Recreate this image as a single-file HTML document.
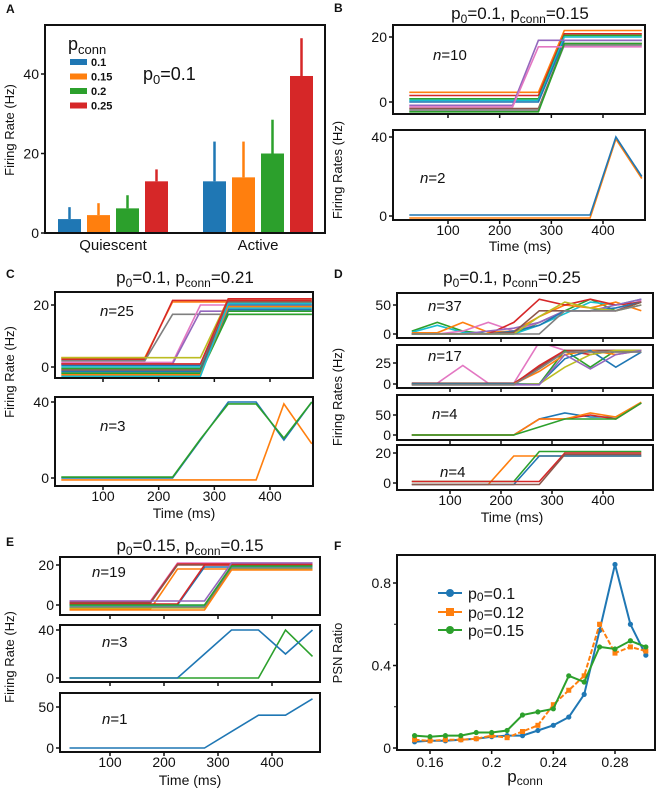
<!DOCTYPE html>
<html><head><meta charset="utf-8">
<style>
html,body{margin:0;padding:0;background:#fff;}
svg{display:block;font-family:"Liberation Sans",sans-serif;}
</style></head>
<body>
<svg id="fig" width="660" height="789" viewBox="0 0 660 789" xmlns="http://www.w3.org/2000/svg">
<defs></defs>
</svg>
<script>
// ---------- Panel A data ----------
const aGroups = ['Quiescent','Active'];
const aLegend = ['0.1','0.15','0.2','0.25'];
const aMeans = [[3.5,4.5,6.2,13],[13,14,20,39.5]];
const aErrTop = [[6.5,7.5,9.5,16],[23,23,28.5,49]];
const aYTicks = [0,20,40];
// ---------- Traces ----------
const T = [25,75,125,175,225,275,325,375,425,475];
const bTopColors = ['#ff7f0e','#d62728','#2ca02c','#17becf','#1f77b4','#9467bd','#e377c2','#8c564b','#7f7f7f','#2ca02c'];
const bTopVals = [
 [3,3,3,3,3,3,22,22,22,22],[2,2,2,2,2,2,21,21,21,21],[1,1,1,1,1,1,20.5,20.5,20.5,20.5],
 [0.5,0.5,0.5,0.5,0.5,0.5,20,20,20,20],[0,0,0,0,0,0,19,19,19,19],[-1,-1,-1,-1,-1,19,19,19,19,19],
 [-1.5,-1.5,-1.5,-1.5,-1.5,17,17,17,17,17],[-2,-2,-2,-2,-2,-2,18,18,18,18],[-2.5,-2.5,-2.5,-2.5,-2.5,-2.5,17.5,17.5,17.5,17.5],[-3,-3,-3,-3,-3,-3,18,18,18,18]];
const bBotColors = ['#ff7f0e','#1f77b4'];
const bBotVals = [[-1,-1,-1,-1,-1,-1,-1,-1,39,19],[0.5,0.5,0.5,0.5,0.5,0.5,0.5,0.5,40,20]];
const cTopColors = ['#ff7f0e','#d62728','#7f7f7f','#e377c2','#9467bd','#bcbd22','#1f77b4','#17becf','#2ca02c','#8c564b','#1f77b4','#2ca02c','#ff7f0e','#17becf','#d62728'];
const cTopVals = [
 [3,3,3,3,21,21,21,21,21,21],[2.5,2.5,2.5,2.5,21.5,21.5,21.5,21.5,21.5,21.5],[2,2,2,2,17,17,17,17,17,17],
 [1.5,1.5,1.5,1.5,1.5,20,20,20,20,20],[1,1,1,1,1,18,18,18,18,18],[3,3,3,3,3,3,22,22,22,22],
 [0.5,0.5,0.5,0.5,0.5,0.5,20,20,20,20],[0,0,0,0,0,0,19,19,19,19],[-0.5,-0.5,-0.5,-0.5,-0.5,-0.5,18,18,18,18],
 [-1,-1,-1,-1,-1,-1,21,21,21,21],[-1.5,-1.5,-1.5,-1.5,-1.5,-1.5,18.5,18.5,18.5,18.5],[-2,-2,-2,-2,-2,-2,17,17,17,17],
 [-2.5,-2.5,-2.5,-2.5,-2.5,-2.5,19.5,19.5,19.5,19.5],[-3,-3,-3,-3,-3,-3,20.5,20.5,20.5,20.5],[1,1,1,1,1,1,22,22,22,22]];
const cBotColors = ['#ff7f0e','#1f77b4','#2ca02c'];
const cBotVals = [[-1,-1,-1,-1,-1,-1,-1,-1,39,18],[0,0,0,0,0,20,40,40,20,40],[0.5,0.5,0.5,0.5,0.5,20.5,39,39,21,40]];
const d1Colors = ['#2ca02c','#17becf','#ff7f0e','#e377c2','#d62728','#9467bd','#1f77b4','#8c564b','#bcbd22','#7f7f7f'];
const d1Vals = [
 [5,20,5,0,0,20,40,60,40,55],[3,15,3,0,0,15,35,55,50,60],[2,2,20,3,5,30,50,45,55,40],[0,0,5,20,5,20,40,40,40,58],
 [0,0,0,0,20,60,50,60,50,55],[0,0,0,5,10,20,40,40,50,60],[0,0,0,0,5,15,40,40,45,55],[0,0,0,0,3,40,40,40,40,55],
 [0,0,0,0,0,30,55,45,40,50],[0,0,0,0,0,0,40,40,40,50]];
const d2Colors = ['#e377c2','#8c564b','#d62728','#2ca02c','#ff7f0e','#1f77b4','#bcbd22','#9467bd','#7f7f7f'];
const d2Vals = [
 [1,1,22,1,1,50,40,40,40,40],[1,1,1,1,1,20,40,40,40,40],[0,0,0,0,0,22,40,35,40,40],[0,0,0,0,0,0,40,20,40,40],
 [0,0,0,0,0,15,35,40,35,40],[0,0,0,0,0,0,30,40,20,38],[-1,-1,-1,-1,-1,0,20,35,40,40],[-1,-1,-1,-1,-1,-1,35,18,35,40],[-1,-1,-1,-1,-1,18,38,38,38,38]];
const d3Colors = ['#1f77b4','#d62728','#ff7f0e','#2ca02c'];
const d3Vals = [[0,0,0,0,0,40,55,45,45,80],[0,0,0,0,0,40,40,50,40,80],[0,0,0,0,0,40,40,55,45,82],[0,0,0,0,0,20,40,40,40,80]];
const d4Colors = ['#ff7f0e','#2ca02c','#1f77b4','#d62728','#8c564b'];
const d4Vals = [[-1,-1,-1,-1,18,18,18,18,18,18],[1,1,1,1,1,21,21,21,21,21],[-1,-1,-1,-1,-1,18,18,18,18,18],[1,1,1,1,1,1,20,20,20,20],[-1,-1,-1,-1,-1,-1,19,19,19,19]];
const e1Colors = ['#e377c2','#d62728','#8c564b','#ff7f0e','#1f77b4','#d62728','#9467bd','#17becf','#bcbd22','#7f7f7f','#2ca02c','#ff7f0e'];
const e1Vals = [
 [2,2,2,2,21,21,21,21,21,21],[1.5,1.5,1.5,1.5,20.5,20.5,20.5,20.5,20.5,20.5],[1,1,1,1,20,20,20,20,20,20],[-2,-2,-2,-2,18,18,18,18,18,18],
 [0,0,0,0,0,19,19,19,19,19],[0.5,0.5,0.5,0.5,0.5,20,20,20,20,20],[2,2,2,2,2,2,21,21,21,21],[-0.5,-0.5,-0.5,-0.5,-0.5,-0.5,19,19,19,19],
 [-1.5,-1.5,-1.5,-1.5,-1.5,-1.5,18,18,18,18],[-1,-1,-1,-1,-1,-1,18.5,18.5,18.5,18.5],[0,0,0,0,0,0,19.5,19.5,19.5,19.5],[-2.5,-2.5,-2.5,-2.5,-2.5,-2.5,17.5,17.5,17.5,17.5]];
const e2Colors = ['#2ca02c','#1f77b4'];
const e2Vals = [[0,0,0,0,0,0,0,0,40,18],[0,0,0,0,0,20,40,40,20,40]];
const e3Colors = ['#1f77b4'];
const e3Vals = [[0,0,0,0,0,0,20,40,40,60]];
// ---------- Panel F data ----------
const fX = [0.15,0.16,0.17,0.18,0.19,0.20,0.21,0.22,0.23,0.24,0.25,0.26,0.27,0.28,0.29,0.30];
const fBlue = [0.03,0.035,0.035,0.04,0.045,0.055,0.06,0.06,0.085,0.11,0.15,0.26,0.57,0.89,0.60,0.45];
const fOrange = [0.04,0.035,0.04,0.04,0.045,0.06,0.05,0.08,0.11,0.21,0.28,0.35,0.60,0.46,0.49,0.47];
const fGreen = [0.06,0.055,0.06,0.06,0.075,0.075,0.085,0.16,0.175,0.19,0.35,0.32,0.49,0.48,0.52,0.49];
const fXTicks = [0.16,0.2,0.24,0.28];
const fYTicks = [0,0.4,0.8];

const NS='http://www.w3.org/2000/svg';
const svg=document.getElementById('fig');
function el(tag,attrs,parent){const e=document.createElementNS(NS,tag);for(const k in attrs)e.setAttribute(k,attrs[k]);(parent||svg).appendChild(e);return e;}
function txt(x,y,s,size,anchor,parent,extra){const t=el('text',Object.assign({x:x,y:y,'font-size':size,'text-anchor':anchor||'middle',fill:'#111'},extra||{}),parent);t.textContent=s;return t;}
function lin(v1,p1,v2,p2){return v=>p1+(v-v1)*(p2-p1)/(v2-v1);}
let clipId=0;
function sub(name,L,R,Top,Bot,xs,ys,yticks,colors,vals,showXLabels,nlabel,nx,ny){
  const g=el('g',{});
  
  
  const X=lin(xs[0],xs[1],xs[2],xs[3]), Y=lin(ys[0],ys[1],ys[2],ys[3]);
  const id='c'+(clipId++);
  const cp=el('clipPath',{id:id},g); el('rect',{x:L,y:Top,width:R-L,height:Bot-Top},cp);
  const lg=el('g',{'clip-path':'url(#'+id+')'},g);
  vals.forEach((v,i)=>{
    const p=el('polyline',{points:v.map((y,j)=>X(T[j]).toFixed(1)+','+Y(y).toFixed(1)).join(' '),fill:'none',stroke:colors[i],'stroke-width':1.6},lg);
    
    
  });
  el('rect',{x:L,y:Top,width:R-L,height:Bot-Top,fill:'none',stroke:'#111','stroke-width':2},g);
  yticks.forEach(t=>{const y=Y(t);el('line',{x1:L-4,x2:L,y1:y,y2:y,stroke:'#111','stroke-width':1.5},g);
    const tl=txt(L-6,y+5,String(t),14,'end',g); });
  [100,200,300,400].forEach(t=>{const x=X(t);el('line',{x1:x,x2:x,y1:Bot,y2:Bot+4,stroke:'#111','stroke-width':1.5},g);
    if(showXLabels){const tl=txt(x,Bot+15,String(t),14,'middle',g);}});
  const n=el('text',{x:nx,y:ny,'font-size':15,'text-anchor':'start',fill:'#111'},g);
  n.innerHTML='<tspan font-style="italic">n</tspan>='+nlabel;
  
}
function title(x,y,p0,pc,name){
  const t=el('text',{x:x,y:y,'font-size':17,'text-anchor':'middle',fill:'#111'});
  t.innerHTML='p<tspan font-size="12" dy="4">0</tspan><tspan dy="-4">='+p0+', p</tspan><tspan font-size="12" dy="4">conn</tspan><tspan dy="-4">='+pc+'</tspan>';
  
}
function letter(x,y,s){const t=txt(x,y,s,12,'start',null,{'font-weight':'bold'});}
function ylab(x,y,s){const t=txt(0,0,s,13,'middle',null,{transform:'translate('+x+','+y+') rotate(-90)'});}
function xlab(x,y,s){const t=txt(x,y,s,14,'middle');}

// ---------- Panel A ----------
(function(){
  const L=45,R=325,Top=25,Bot=233;
  const Y=lin(0,233,40,74);
  const g=el('g',{});  
  const cols=['#1f77b4','#ff7f0e','#2ca02c','#d62728'];
  const groupStart=[58,203], bw=23, step=29;
  aGroups.forEach((gn,gi)=>{
    aMeans[gi].forEach((m,i)=>{
      const x=groupStart[gi]+i*step;
      const e=el('line',{x1:x+bw/2,x2:x+bw/2,y1:Y(aErrTop[gi][i]),y2:Y(m),stroke:cols[i],'stroke-width':2.5},g);
      
      const b=el('rect',{x:x,y:Y(m),width:bw,height:Y(0)-Y(m),fill:cols[i]},g);
      
    });
    const tl=txt(groupStart[gi]+2*step-3,250,gn,15,'middle',g);
  });
  el('rect',{x:L,y:Top,width:R-L,height:Bot-Top,fill:'none',stroke:'#111','stroke-width':2},g);
  aYTicks.forEach(t=>{el('line',{x1:L-4,x2:L,y1:Y(t),y2:Y(t),stroke:'#111','stroke-width':1.5},g);
    const tl=txt(L-6,Y(t)+5,String(t),14,'end',g);});
  const lt=el('text',{x:68,y:50,'font-size':18,fill:'#111'},g);lt.innerHTML='p<tspan font-size="13" dy="4">conn</tspan>';
  
  aLegend.forEach((s,i)=>{
    const y=62+i*14.5;
    const sw=el('rect',{x:70,y:y-3,width:17,height:6,fill:cols[i]},g);
    const t=txt(91,y+4,s,11,'start',g,{'font-weight':'bold'});
  });
  const p=el('text',{x:143,y:80,'font-size':18,fill:'#111'},g);p.innerHTML='p<tspan font-size="13" dy="4">0</tspan><tspan dy="-4">=0.1</tspan>';
  
})();
letter(6,13,'A'); ylab(14,130,'Firing Rate (Hz)');

// ---------- Panel B ----------
letter(334,12,'B'); title(520,19,'0.1','0.15','panel-b-title');
sub('panel-b-top',393,645,25,114,[100,448,400,603],[0,102,20,37],[0,20],bTopColors,bTopVals,false,'10',433,60);
sub('panel-b-bottom',393,645,130,220,[100,448,400,603],[0,216,40,137],[0,40],bBotColors,bBotVals,true,'2',420,183);
ylab(342,170,'Firing Rates (Hz)'); xlab(520,251,'Time (ms)');

// ---------- Panel C ----------
letter(6,278,'C'); title(185,283,'0.1','0.21','panel-c-title');
sub('panel-c-top',55,313,292,378,[100,103,400,270],[0,367,20,305],[0,20],cTopColors,cTopVals,false,'25',100,316);
sub('panel-c-bottom',55,313,397,486,[100,103,400,270],[0,478,40,402],[0,40],cBotColors,cBotVals,true,'3',100,431);
ylab(14,372,'Firing Rate (Hz)'); xlab(184,518,'Time (ms)');

// ---------- Panel D ----------
letter(334,278,'D'); title(512,283,'0.1','0.25','panel-d-title');
sub('panel-d-1',397,653,293,338,[100,450,400,603],[0,334,50,305],[0,50],d1Colors,d1Vals,false,'37',428,311);
sub('panel-d-2',397,653,345,388,[100,450,400,603],[0,384,25,363],[0,25],d2Colors,d2Vals,false,'17',428,361);
sub('panel-d-3',397,653,395,440,[100,450,400,603],[0,435,50,415],[0,50],d3Colors,d3Vals,false,'4',432,419);
sub('panel-d-4',397,653,445,490,[100,450,400,603],[0,483,20,453],[0,20],d4Colors,d4Vals,true,'4',440,477);
ylab(342,397,'Firing Rates (Hz)'); xlab(512,522,'Time (ms)');

// ---------- Panel E ----------
letter(6,546,'E'); title(190,551,'0.15','0.15','panel-e-title');
sub('panel-e-1',60,320,557,615,[100,110,400,272],[0,605,20,565],[0,20],e1Colors,e1Vals,false,'19',92,577);
sub('panel-e-2',60,320,625,682,[100,110,400,272],[0,678,40,630],[0,40],e2Colors,e2Vals,false,'3',102,647);
sub('panel-e-3',60,320,693,752,[100,110,400,272],[0,748,50,707],[0,50],e3Colors,e3Vals,true,'1',102,724);
ylab(14,657,'Firing Rate (Hz)'); xlab(190,785,'Time (ms)');

// ---------- Panel F ----------
letter(334,550,'F');
(function(){
  const L=397,R=655,Top=555,Bot=750;
  const X=lin(0.16,430,0.28,615), Y=lin(0,748,0.8,583);
  const g=el('g',{});  
  const series=[['#1f77b4',fBlue,'circle','0.1'],['#ff7f0e',fOrange,'square','0.12'],['#2ca02c',fGreen,'circle','0.15']];
  series.forEach(s=>{
    const p=el('polyline',{points:s[1].map((v,i)=>X(fX[i]).toFixed(1)+','+Y(v).toFixed(1)).join(' '),fill:'none',stroke:s[0],'stroke-width':2,'stroke-dasharray':s[2]==='square'?'5,2':'none'},g);
    
    s[1].forEach((v,i)=>{
      const m=s[2]==='circle'?el('circle',{cx:X(fX[i]),cy:Y(v),r:2.6,fill:s[0]},g):el('rect',{x:X(fX[i])-2.5,y:Y(v)-2.5,width:5,height:5,fill:s[0]},g);
      
    });
  });
  el('rect',{x:L,y:Top,width:R-L,height:Bot-Top,fill:'none',stroke:'#111','stroke-width':2},g);
  fYTicks.forEach(t=>{el('line',{x1:L-4,x2:L,y1:Y(t),y2:Y(t),stroke:'#111','stroke-width':1.5},g);
    const tl=txt(L-6,Y(t)+5,String(t),14,'end',g);});
  [0.2,0.6].forEach(t=>el('line',{x1:L-3,x2:L,y1:Y(t),y2:Y(t),stroke:'#111','stroke-width':1},g));
  fXTicks.forEach(t=>{el('line',{x1:X(t),x2:X(t),y1:Bot,y2:Bot+4,stroke:'#111','stroke-width':1.5},g);
    const tl=txt(X(t),Bot+17,String(t),14,'middle',g);});
  series.forEach((s,i)=>{
    const y=[593,612,630][i];
    el('line',{x1:438,x2:462,y1:y,y2:y,stroke:s[0],'stroke-width':2},g);
    if(s[2]==='circle')el('circle',{cx:450,cy:y,r:4,fill:s[0]},g);else el('rect',{x:446,y:y-4,width:8,height:8,fill:s[0]},g);
    const t=el('text',{x:468,y:y+6,'font-size':16,fill:'#111'},g);
    t.innerHTML='p<tspan font-size="12" dy="2">0</tspan><tspan dy="-2">='+s[3]+'</tspan>';
    
  });
  const xl=el('text',{x:525,y:782,'font-size':17,'text-anchor':'middle',fill:'#111'},g);
  xl.innerHTML='p<tspan font-size="12" dy="3">conn</tspan>';
  
})();
ylab(342,653,'PSN Ratio');
</script>
</body></html>
